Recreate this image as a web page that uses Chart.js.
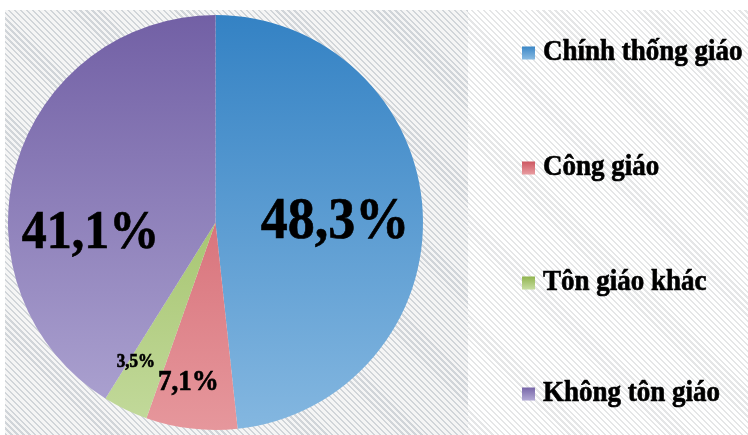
<!DOCTYPE html>
<html>
<head>
<meta charset="utf-8">
<script src="https://cdn.jsdelivr.net/npm/chart.js@4.4.1/dist/chart.umd.min.js"></script>
<style>
  body { margin: 0; background: #ffffff; }
  #wrap { position: relative; width: 748px; height: 435px; overflow: hidden; }
  .hatch { position: absolute; top: 10px; height: 425px; }
  #plotBg { left: 5px; width: 463px;
    background: repeating-linear-gradient(45deg, #d1d5d9 0 1.6px, #f5f5f5 1.6px 4.2px); }
  #legendBg { left: 468px; width: 280px;
    background: repeating-linear-gradient(45deg, #e5e6e7 0 1.6px, #ffffff 1.6px 4.2px); }
  canvas { position: absolute; left: 0; top: 0; }
</style>
</head>
<body>
<div id="wrap">
  <div id="plotBg" class="hatch"></div>
  <div id="legendBg" class="hatch"></div>
  <canvas id="myChart" width="748" height="435"></canvas>
</div>
<script>
// religion shares (%)
const labels = ["Chính thống giáo", "Công giáo", "Tôn giáo khác", "Không tôn giáo"]
const values = [48.3, 7.1, 3.5, 41.1]
const valueTexts = ["48,3%", "7,1%", "3,5%", "41,1%"]

// gradient colours, top -> bottom
const topColors = ["#3482c4", "#cb525d", "#8cb148", "#7260a5"]
const bottomColors = ["#84b7e0", "#e6979c", "#c3da9c", "#aea5d2"]

// where each value label sits: fraction of radius, angle shift (deg), font size
const labelStyle = [
    {frac: 0.576, shift: 3, size: 54},
    {frac: 0.78, shift: 3, size: 27},
    {frac: 0.774, shift: 4, size: 17},
    {frac: 0.605, shift: -21, size: 50}
]

const serif = '"Liberation Serif", "Times New Roman", serif'
const stretch = 1.1 // text in the original is a bit taller than wide

function sliceGradient(ctx, i, top, bottom) {
    let g = ctx.createLinearGradient(0, top, 0, bottom)
    g.addColorStop(0, topColors[i])
    g.addColorStop(1, bottomColors[i])
    return g
}

function tallText(ctx, text, x, y) {
    ctx.save()
    ctx.translate(x, y)
    ctx.scale(1, stretch)
    ctx.fillText(text, 0, 0)
    ctx.lineWidth = 0.6
    ctx.strokeStyle = '#000'
    ctx.strokeText(text, 0, 0)
    ctx.restore()
}

// value labels on the slices
const valueLabels = {
    id: 'valueLabels',
    afterDatasetsDraw(chart) {
        const ctx = chart.ctx
        const arcs = chart.getDatasetMeta(0).data
        ctx.save()
        ctx.fillStyle = '#000'
        ctx.textAlign = 'center'
        ctx.textBaseline = 'middle'
        arcs.forEach((arc, i) => {
            const st = labelStyle[i]
            const mid = (arc.startAngle + arc.endAngle) / 2 + st.shift * Math.PI / 180
            const r = arc.outerRadius * st.frac
            ctx.font = 'bold ' + st.size + 'px ' + serif
            tallText(ctx, valueTexts[i], arc.x + Math.cos(mid) * r, arc.y + Math.sin(mid) * r)
        })
        ctx.restore()
    }
}

// legend on the right, items spread down the panel
const sideLegend = {
    id: 'sideLegend',
    afterDraw(chart) {
        const ctx = chart.ctx
        const boxX = 522, box = 13, textX = 543
        const ys = [52, 167, 282, 393]
        ctx.save()
        ctx.font = 'bold 27px ' + serif
        ctx.textBaseline = 'middle'
        chart.data.labels.forEach((lab, i) => {
            const y = ys[i]
            ctx.fillStyle = sliceGradient(ctx, i, y - box / 2, y + box / 2)
            ctx.fillRect(boxX, y - box / 2 + 1, box, box)
            ctx.fillStyle = '#000'
            tallText(ctx, lab, textX, y)
        })
        ctx.restore()
    }
}

const chart = new Chart("myChart", {
    type: "pie",
    data: {
        labels: labels,
        datasets: [{
            data: values,
            borderWidth: 0,
            backgroundColor: (c) => {
                const a = c.chart.chartArea
                if (!a) return topColors[c.dataIndex]
                return sliceGradient(c.chart.ctx, c.dataIndex, a.top, a.bottom)
            }
        }]
    },
    options: {
        responsive: false,
        animation: false,
        layout: { padding: { left: 8, top: 15, bottom: 5, right: 325 } },
        plugins: {
            legend: { display: false },
            tooltip: { enabled: false }
        }
    },
    plugins: [valueLabels, sideLegend]
})
</script>
</body>
</html>
